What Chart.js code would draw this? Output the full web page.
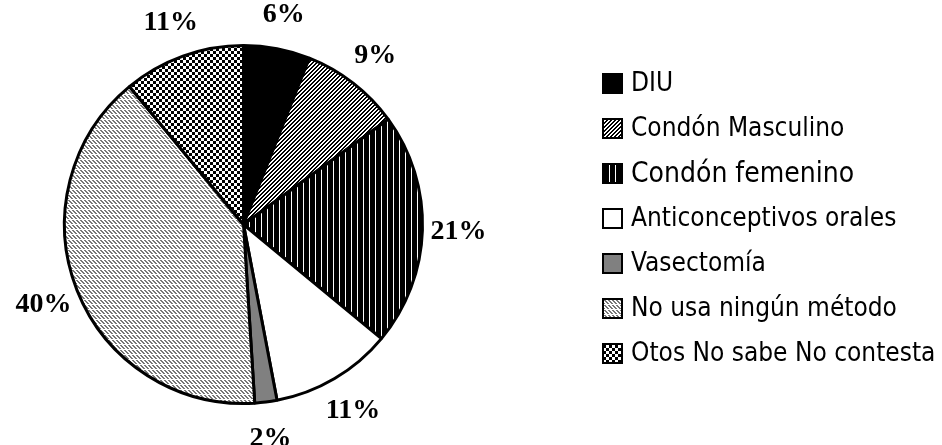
<!DOCTYPE html>
<html lang="es">
<head>
<meta charset="UTF-8">
<title>Métodos anticonceptivos</title>
<script src="https://cdn.jsdelivr.net/npm/chart.js"></script>
<style>
  html, body { margin: 0; padding: 0; background: #fff; }
  #wrap { width: 942px; height: 445px; position: relative; }
</style>
</head>
<body>
<div id="wrap"><canvas id="pieChart"></canvas></div>
<script>
// data
const labels = ['DIU', 'Condón Masculino', 'Condón femenino', 'Anticonceptivos orales', 'Vasectomía', 'No usa ningún método', 'Otos No sabe No contesta'];
const values = [6, 9, 21, 11, 2, 40, 11];
const valueLabels = ['6%', '9%', '21%', '11%', '2%', '40%', '11%'];

// fill patterns (black & white print style)
function makePattern(w, h, paint) {
    const c = document.createElement('canvas');
    c.width = w;
    c.height = h;
    const g = c.getContext('2d');
    g.fillStyle = '#fff';
    g.fillRect(0, 0, w, h);
    paint(g);
    return g.createPattern(c, 'repeat');
}

const hatch = makePattern(4, 4, g => {
    g.fillStyle = '#000';
    for (let x = 0; x < 4; x++) {
        for (let y = 0; y < 4; y++) {
            if ((x + y) % 4 >= 2) g.fillRect(x, y, 1, 1);
        }
    }
});
const vertical = makePattern(6, 1, g => {
    g.fillStyle = '#000';
    g.fillRect(0, 0, 6, 1);
    g.fillStyle = '#fff';
    g.fillRect(3, 0, 1, 1);
});
const dashes = makePattern(4, 5, g => {
    g.fillStyle = '#777';
    [[0, 0], [1, 0], [1, 1], [2, 1], [2, 2], [3, 2], [3, 3], [0, 3]].forEach(p => g.fillRect(p[0], p[1], 1, 1));
});
const checker = makePattern(6, 6, g => {
    g.fillStyle = '#000';
    g.fillRect(0, 0, 3, 3);
    g.fillRect(3, 3, 3, 3);
});

const fills = ['#000', hatch, vertical, '#fff', '#808080', dashes, checker];
const legendFontSizes = [26, 26, 28, 26, 26, 26, 26];

const valueLabelPlugin = {
    id: 'valueLabels',
    afterDatasetsDraw(chart) {
        const ctx = chart.ctx;
        const arcs = chart.getDatasetMeta(0).data;
        ctx.save();
        ctx.font = 'bold 28px "Liberation Serif", "Times New Roman", serif';
        ctx.fillStyle = '#000';
        ctx.textAlign = 'center';
        ctx.textBaseline = 'middle';
        arcs.forEach((arc, i) => {
            const p = arc.getProps(['x', 'y', 'startAngle', 'endAngle', 'outerRadius'], true);
            const mid = (p.startAngle + p.endAngle) / 2;
            const dist = p.outerRadius + 36;
            ctx.fillText(valueLabels[i], p.x + Math.cos(mid) * dist, p.y + Math.sin(mid) * dist + 1);
        });
        ctx.restore();
    }
};

const sideLegend = {
    id: 'sideLegend',
    afterDraw(chart) {
        const ctx = chart.ctx;
        const ds = chart.data.datasets[0];
        const left = 603, top0 = 74, step = 45, box = 19;
        ctx.save();
        chart.data.labels.forEach((text, i) => {
            const top = top0 + i * step;
            ctx.fillStyle = ds.backgroundColor[i];
            ctx.fillRect(left, top, box, box);
            ctx.lineWidth = 2;
            ctx.strokeStyle = '#000';
            ctx.strokeRect(left, top, box, box);
            ctx.fillStyle = '#000';
            ctx.font = legendFontSizes[i] + 'px "DejaVu Sans Condensed", "DejaVu Sans", sans-serif';
            ctx.textBaseline = 'middle';
            ctx.fillText(text, left + box + 9, top + box / 2 + 1);
        });
        ctx.restore();
    }
};

new Chart(document.getElementById('pieChart'), {
    type: 'pie',
    data: {
        labels: labels,
        datasets: [{
            data: values,
            backgroundColor: fills,
            borderColor: '#000',
            borderWidth: 3
        }]
    },
    options: {
        responsive: true,
        maintainAspectRatio: false,
        animation: false,
        layout: { padding: { left: 63, right: 518, top: 44, bottom: 40 } },
        plugins: {
            legend: { display: false },
            tooltip: { enabled: false }
        }
    },
    plugins: [valueLabelPlugin, sideLegend]
});
</script>
</body>
</html>
